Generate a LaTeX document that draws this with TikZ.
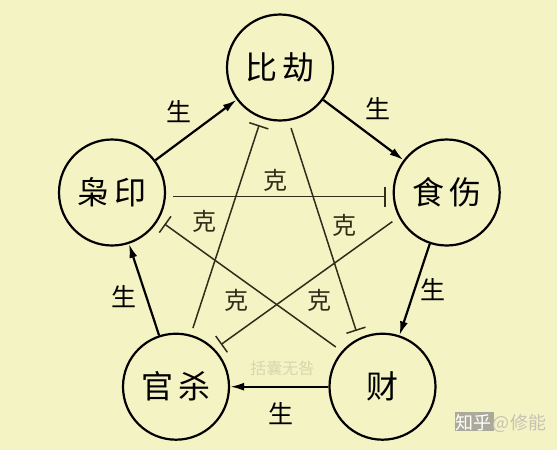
\documentclass[tikz,border=0pt]{standalone}
\usepackage{fontspec}
\newfontfamily\cjk{Noto Sans CJK SC}
\usetikzlibrary{arrows.meta}
\definecolor{bg}{HTML}{F4F3C4}
\definecolor{kecol}{HTML}{2E2E1A}
\definecolor{wm}{HTML}{D8D6AE}
\definecolor{zhbox}{HTML}{ABAA9A}
\definecolor{zhtext}{HTML}{C4C3B4}
\begin{document}
\begin{tikzpicture}[x=1pt,y=-1pt,
  elem/.style={circle,draw,line width=2.2pt,minimum size=106pt,inner sep=0pt,
    font=\cjk\fontsize{32}{32}\selectfont},
  sheng/.style={line width=2.2pt,-{Latex[length=14pt,width=8pt]}},
  ke/.style={draw=kecol,line width=1.5pt,-{Bar[width=20pt,line width=1.5pt]},
    shorten <=7pt,shorten >=7pt},
  slabel/.style={font=\cjk\fontsize{25}{25}\selectfont},
  klabel/.style={font=\cjk\fontsize{24}{24}\selectfont,text=kecol},
  wmark/.style={font=\cjk\fontsize{16}{16}\selectfont,text=wm},
  zh/.style={font=\cjk\fontsize{18}{18}\selectfont,inner sep=0pt}]
\fill[bg] (0,0) rectangle (557,450);
\useasboundingbox (0,0) rectangle (557,450);
% five elements
\node[elem] (bj) at (280,67.5) {比\hspace{5pt}劫};
\node[elem] (ss) at (446.7,192.5) {食\hspace{5pt}伤};
\node[elem] (cai) at (382.5,386.7) {财};
\node[elem] (gs) at (176,386.7) {官\hspace{5pt}杀};
\node[elem] (xy) at (112,192.5) {枭\hspace{5pt}印};
% sheng cycle
\draw[sheng] (xy) -- (bj);
\draw[sheng] (bj) -- (ss);
\draw[sheng] (ss) -- (cai);
\draw[sheng] (cai) -- (gs);
\draw[sheng] (gs) -- (xy);
% ke cycle
\draw[ke,transform canvas={shift={(0,4)}}] (xy) -- (ss);
\draw[ke,transform canvas={shift={(-2,-0.5)}}] (gs) -- (bj);
\draw[ke,transform canvas={shift={(-7.6,2.4)}}] (bj) -- (cai);
\draw[ke,transform canvas={shift={(-4.7,-6.5)}}] (ss) -- (gs);
\draw[ke,transform canvas={shift={(2.9,-4.1)}}] (cai) -- (xy);
% labels
\node[slabel] (s1) at (179.4,111.7) {生};
\node[slabel] (s2) at (378.3,108.3) {生};
\node[slabel] (s3) at (433.4,290) {生};
\node[slabel] (s4) at (280.6,413.3) {生};
\node[slabel] (s5) at (124.3,296.7) {生};
\node[klabel] (k1) at (275.3,180) {克};
\node[klabel] (k2) at (204.3,221.7) {克};
\node[klabel] (k3) at (344.6,225) {克};
\node[klabel] (k4) at (236.2,300) {克};
\node[klabel] (k5) at (319.7,300) {克};
% watermarks
\node[wmark] (w1) at (282.4,368.3) {括囊无咎};
\fill[zhbox] (455,412) rectangle (494,431);
\node[zh,text=white] (zh1) at (473,422.5) {知乎};
\node[zh,text=zhtext] (zh2) at (519.5,423.5) {@修能};
\end{tikzpicture}
\end{document}
